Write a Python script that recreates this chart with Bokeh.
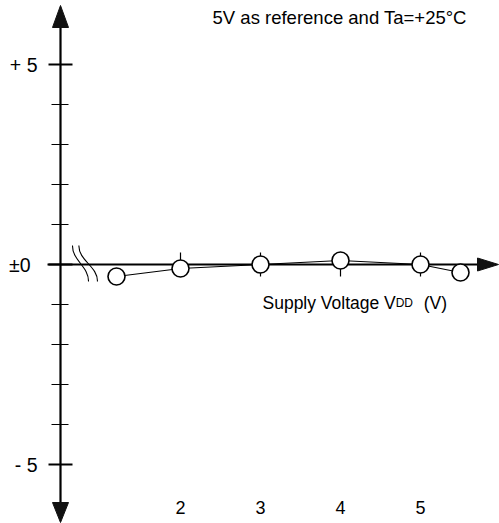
from bokeh.plotting import figure
from bokeh.models import Range1d
from bokeh.core.properties import value
from bokeh.embed import file_html
from bokeh.resources import INLINE

# ---- data ----
supply_v = [1.2, 2.0, 3.0, 4.0, 5.0, 5.5]
deviation = [-0.3, -0.1, 0.0, 0.1, 0.0, -0.2]
x_ticks = [2, 3, 4, 5]
x_tick_labels = ["2", "3", "4", "5"]
y_major = [5, 0, -5]
y_major_labels = ["+ 5", "±0", "- 5"]
y_minor = [4, 3, 2, 1, -1, -2, -3, -4]
title_text = "5V as reference and Ta=+25°C"

FONT = value("Liberation Sans")

# reference drawing units: 80 px per volt, 40 px per unit
VX = 1 / 80.0
UY = 1 / 40.0

x0, x1 = -0.25, 5.9875
y0, y1 = -6.475, 6.6
axis_x = 0.5  # y-axis position in volts

p = figure(width=499, height=523, output_backend="svg", toolbar_location=None,
           x_range=Range1d(x0, x1), y_range=Range1d(y0, y1),
           min_border=0, x_axis_location=None, y_axis_location=None)
p.outline_line_color = None
p.xgrid.visible = False
p.ygrid.visible = False
p.background_fill_color = "white"
p.border_fill_color = "white"

# vertical axis
y_top_tip = y1 - 5 * UY
y_top_base = y1 - 27 * UY
y_bot_base = y0 + 21 * UY
y_bot_tip = y0 + 1 * UY
p.line([axis_x, axis_x], [y_bot_base, y_top_base], line_color="black", line_width=2.2)
p.patch([axis_x - 8 * VX, axis_x + 8 * VX, axis_x], [y_top_base, y_top_base, y_top_tip],
        fill_color="#111111", line_color="#111111")
p.patch([axis_x - 8 * VX, axis_x + 8 * VX, axis_x], [y_bot_base, y_bot_base, y_bot_tip],
        fill_color="#111111", line_color="#111111")

# horizontal axis
x_left = axis_x - 13 * VX
x_arrow_base = x1 - 22 * VX
x_arrow_tip = x1 - 1 * VX
p.line([x_left, x_arrow_base], [0, 0], line_color="black", line_width=2.2)
p.patch([x_arrow_base, x_arrow_base, x_arrow_tip], [6.5 * UY, -6.5 * UY, 0],
        fill_color="#111111", line_color="#111111")

# y ticks
for yv in y_major:
    p.line([axis_x - 12 * VX, axis_x + 12 * VX], [yv, yv], line_color="black", line_width=2)
for yv in y_minor:
    p.line([axis_x - 9 * VX, axis_x + 8 * VX], [yv, yv], line_color="black", line_width=1.2)

# x ticks
for xv in x_ticks:
    p.line([xv, xv], [-12 * UY, 12 * UY], line_color="black", line_width=1.2)

# axis break marks
for off in [0.0, 0.08]:
    p.bezier(x0=[0.65 + off], y0=[0.475], x1=[0.85 + off * 1.4], y1=[-0.425],
             cx0=[0.645 + off], cy0=[0.1], cx1=[0.855 + off * 1.4], cy1=[-0.05],
             line_color="black", line_width=1.1)

# data
p.line(supply_v, deviation, line_color="black", line_width=1.1)
p.scatter(supply_v, deviation, size=17, marker="circle", fill_color="white",
          line_color="black", line_width=1.6)

# y labels
y_label_x = [0.2125, 0.125, 0.2125]
p.text(x=y_label_x, y=y_major, text=y_major_labels, text_align="right",
       text_baseline="middle", text_font=FONT, text_font_size="19.5px", text_color="black")

# x labels
p.text(x=x_ticks, y=[-6.075] * len(x_ticks), text=x_tick_labels, text_align="center",
       text_baseline="middle", text_font=FONT, text_font_size="18px", text_color="black")

# axis title
p.text(x=[3.025], y=[-0.95], text=["Supply Voltage V"], text_align="left",
       text_baseline="alphabetic", text_font=FONT, text_font_size="17.5px", text_color="black")
p.text(x=[4.69], y=[-0.95], text=["DD"], text_align="left",
       text_baseline="alphabetic", text_font=FONT, text_font_size="12px", text_color="black")
p.text(x=[5.04], y=[-0.95], text=["(V)"], text_align="left",
       text_baseline="alphabetic", text_font=FONT, text_font_size="17.5px", text_color="black")

# top note (kept fully visible near the top edge)
p.text(x=[3.99], y=[6.17], text=[title_text], text_align="center",
       text_baseline="alphabetic", text_font=FONT, text_font_size="18.5px", text_color="black")

open("out.html", "w").write(file_html(p, INLINE))
